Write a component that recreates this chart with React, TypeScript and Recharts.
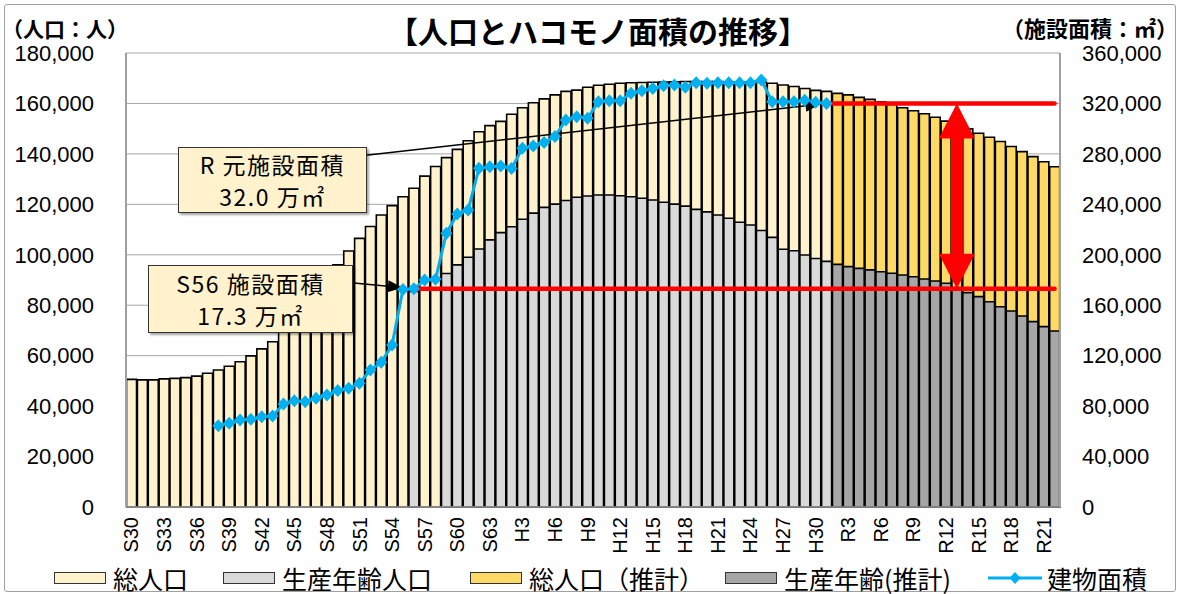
import React from 'react';
import {
  ComposedChart, Bar, Line, XAxis, YAxis, CartesianGrid, ReferenceLine,
} from 'recharts';

const JP = "'Noto Sans CJK JP', 'Noto Sans', sans-serif";
const NUM = "'Liberation Sans', Arial, sans-serif";

// year labels: S30 (1955) ... H30 (2018), R1 (2019) ... R22 (2040)
const eraSpans: [string, number, number][] = [['S', 30, 34], ['H', 1, 30], ['R', 1, 22]];
const yearLabels: string[] = eraSpans.flatMap(([era, first, count]) =>
  Array.from({ length: count }, (_, k) => `${era}${first + k}`));

const PROJ_FROM = 65; // R2 onwards = projection
const WORK_FROM = 26; // S56
const AREA_FROM = 8;  // S38

// 総人口 S30..R1
const totalPop = [
  50600, 50400, 50400, 50800, 51000, 51300, 51900, 53000, 54300, 55800,
  57600, 59900, 62700, 65500, 69500, 74000, 79000, 84500, 90000, 96000,
  101500, 106500, 111200, 115800, 119500, 123000, 126400, 131200, 135000, 138500,
  141800, 145200, 148800, 151200, 152900, 155700, 158300, 160300, 161800, 163400,
  164800, 165300, 166400, 167200, 167600, 168000, 168200, 168300, 168400, 168500,
  168600, 168700, 168700, 168700, 168700, 168600, 168600, 168500, 168400, 168000,
  167300, 166700, 165900, 165200, 164800,
];
// 総人口（推計） R2..R22
const totalPopProj = [
  164000, 163400, 162400, 161600, 160700, 159600, 158300, 157100, 155900, 154500,
  153000, 151700, 149900, 148200, 146600, 144900, 142900, 140900, 138900, 136900,
  134900,
];
// 生産年齢人口 S56..R1
const workPop = [
  85500, null, null, 92600, 96000, 99000, 102300, 105900, 108800, 111100,
  114100, 116500, 118800, 120100, 121500, 122800, 123300, 123700, 123700, 123400,
  123000, 122400, 121700, 120800, 120100, 119300, 118000, 117000, 115800, 114500,
  112900, 111800, 109600, 106900, 102200, 101600, 99900, 98500, 97400,
];
// 生産年齢（推計） R2..R22
const workPopProj = [
  96200, 95300, 94600, 94000, 93300, 92700, 92000, 91300, 90400, 89600,
  88700, 87000, 85000, 83400, 81400, 79400, 77700, 75700, 73500, 71500,
  69800,
];
// 建物面積 (m2) S38..R1
const buildingArea = [
  64500, 66400, 69000, 69500, 71500, 72200, 81700, 84300, 83500, 86200,
  88800, 92300, 94100, 98100, 108600, 114700, 128500, 172500, 173000, 180000,
  180600, 217000, 232400, 235500, 268600, 269900, 270400, 268500, 284400, 286300,
  289000, 293700, 306900, 309500, 308200, 321400, 322200, 322200, 328000, 330100,
  331800, 334000, 334600, 332800, 336500, 336000, 336500, 336500, 336500, 336500,
  338600, 321400, 321400, 321400, 322500, 321000, 320000,
];

const popTicks = [0, 20000, 40000, 60000, 80000, 100000, 120000, 140000, 160000, 180000];
const areaTicks = [0, 40000, 80000, 120000, 160000, 200000, 240000, 280000, 320000, 360000];

const AREA_S56 = 173000;
const AREA_R1 = 320000;

const rows = yearLabels.map((label, i) => ({
  label,
  total: i < PROJ_FROM ? totalPop[i] : null,
  totalProj: i >= PROJ_FROM ? totalPopProj[i - PROJ_FROM] : null,
  work: i >= WORK_FROM && i < PROJ_FROM ? workPop[i - WORK_FROM] ?? null : null,
  workProj: i >= PROJ_FROM ? workPopProj[i - PROJ_FROM] : null,
  area: i >= AREA_FROM && i < AREA_FROM + buildingArea.length ? buildingArea[i - AREA_FROM] : null,
}));

const legendItems = [
  { label: '総人口', fill: '#FFF2CC', left: 54 },
  { label: '生産年齢人口', fill: '#D9D9D9', left: 223 },
  { label: '総人口（推計）', fill: '#FFD966', left: 470 },
  { label: '生産年齢(推計)', fill: '#A6A6A6', left: 725 },
  { label: '建物面積', fill: null, left: 988 },
];

const fmt = (v: number) => v.toLocaleString('en-US');

const XTick = (p: any) => (
  <text
    transform={`translate(${p.x},${p.y + 2}) rotate(-90)`}
    textAnchor="end"
    dominantBaseline="central"
    fontSize={20}
    fontFamily={NUM}
    fill="#000"
  >
    {p.payload.value}
  </text>
);

const Diamond = (p: any) => {
  const { cx, cy, index } = p;
  if (cx == null || cy == null || Number.isNaN(cy)) return <g key={index} />;
  return (
    <path
      key={index}
      d={`M${cx},${cy - 6.5} L${cx + 6},${cy} L${cx},${cy + 6.5} L${cx - 6},${cy} Z`}
      fill="#00B0F0"
    />
  );
};

const DoubleArrow = (p: any) => {
  const x = p.x1;
  const top = Math.min(p.y1, p.y2);
  const bot = Math.max(p.y1, p.y2);
  const hw = 18, hh = 35, sw = 6;
  const d = `M${x},${top} L${x + hw},${top + hh} L${x + sw},${top + hh} L${x + sw},${bot - hh}`
    + ` L${x + hw},${bot - hh} L${x},${bot} L${x - hw},${bot - hh} L${x - sw},${bot - hh}`
    + ` L${x - sw},${top + hh} L${x - hw},${top + hh} Z`;
  return <path d={d} fill="#FF0000" />;
};

const pointer = (gap: number) => (p: any) => {
  const { x1, y1, x2, y2 } = p;
  const len = Math.hypot(x2 - x1, y2 - y1);
  const ux = (x2 - x1) / len, uy = (y2 - y1) / len;
  const tx = x2 - ux * gap, ty = y2 - uy * gap;
  const hl = 15, hw = 6;
  const bx = tx - ux * hl, by = ty - uy * hl;
  return (
    <g>
      <line x1={x1} y1={y1} x2={bx} y2={by} stroke="#000" strokeWidth={1.5} />
      <polygon
        points={`${tx},${ty} ${bx - uy * hw},${by + ux * hw} ${bx + uy * hw},${by - ux * hw}`}
        fill="#000"
      />
    </g>
  );
};

function NoteBox({ left, top, width, height, lines }: any) {
  return (
    <div style={{
      position: 'absolute', left, top, width, height, boxSizing: 'border-box',
      background: '#FFF2CC', border: '1px solid #333', boxShadow: '2px 2px 2px rgba(0,0,0,0.35)',
      display: 'flex', flexDirection: 'column', justifyContent: 'center', alignItems: 'center',
      fontFamily: JP, fontSize: 23, letterSpacing: 1.5, color: '#000',
    }}>
      {lines.map((t: string) => (
        <div key={t} style={{ lineHeight: '32px', whiteSpace: 'nowrap' }}>{t}</div>
      ))}
    </div>
  );
}

export default function App() {
  return (
    <div style={{ position: 'absolute', left: 0, top: 0, width: 1180, height: 594, background: '#fff' }}>
      <div style={{
        position: 'absolute', left: 4, top: 4, width: 1172, height: 588, boxSizing: 'border-box',
        border: '1.5px solid #a0a0a0', borderRadius: 3,
      }} />
      <div style={{ position: 'absolute', left: 0, top: 0 }}>
        <ComposedChart
          width={1180}
          height={594}
          data={rows}
          margin={{ top: 53, right: 0, bottom: 0, left: 0 }}
          barCategoryGap="5%"
          barGap={0}
        >
          <CartesianGrid xAxisId="back" yAxisId="l" vertical={false} stroke="#a6a6a6" />
          <XAxis
            xAxisId="back"
            dataKey="label"
            interval={2}
            height={87}
            tick={XTick}
            tickLine={false}
            axisLine={{ stroke: '#a0a0a0', strokeWidth: 1.5 }}
          />
          <XAxis xAxisId="front" dataKey="label" hide />
          <YAxis
            yAxisId="l"
            domain={[0, 180000]}
            ticks={popTicks}
            width={126}
            tickLine={false}
            tickMargin={26}
            tickFormatter={fmt}
            axisLine={{ stroke: '#a0a0a0', strokeWidth: 2 }}
            tick={{ fontSize: 22, fill: '#000', fontFamily: NUM }}
          />
          <YAxis
            yAxisId="r"
            orientation="right"
            domain={[0, 360000]}
            ticks={areaTicks}
            width={120}
            tickLine={false}
            tickMargin={16}
            tickFormatter={fmt}
            axisLine={{ stroke: '#a0a0a0', strokeWidth: 2 }}
            tick={{ fontSize: 22, fill: '#000', fontFamily: NUM }}
          />
          <Bar xAxisId="back" yAxisId="l" stackId="t" dataKey="total" fill="#FFF2CC"
            stroke="#000" strokeWidth={1.6} isAnimationActive={false} />
          <Bar xAxisId="back" yAxisId="l" stackId="t" dataKey="totalProj" fill="#FFD966"
            stroke="#000" strokeWidth={1.6} isAnimationActive={false} />
          <Bar xAxisId="front" yAxisId="l" stackId="w" dataKey="work" fill="#D9D9D9"
            stroke="#000" strokeWidth={1.6} isAnimationActive={false} />
          <Bar xAxisId="front" yAxisId="l" stackId="w" dataKey="workProj" fill="#A6A6A6"
            stroke="#000" strokeWidth={1.6} isAnimationActive={false} />
          <Line xAxisId="back" yAxisId="r" dataKey="area" stroke="#00B0F0" strokeWidth={3}
            dot={Diamond} activeDot={false} isAnimationActive={false} />
          <ReferenceLine xAxisId="back" yAxisId="r" stroke="#FF0000" strokeWidth={4.5} strokeLinecap="round"
            segment={[{ x: yearLabels[WORK_FROM], y: AREA_S56 }, { x: yearLabels[85], y: AREA_S56 }]} />
          <ReferenceLine xAxisId="back" yAxisId="r" stroke="#FF0000" strokeWidth={4.5} strokeLinecap="round"
            segment={[{ x: yearLabels[64], y: AREA_R1 }, { x: yearLabels[85], y: AREA_R1 }]} />
          <ReferenceLine xAxisId="back" yAxisId="r" shape={DoubleArrow}
            segment={[{ x: yearLabels[76], y: AREA_R1 }, { x: yearLabels[76], y: AREA_S56 }]} />
          <ReferenceLine xAxisId="back" yAxisId="r" shape={pointer(6)}
            segment={[{ x: yearLabels[21], y: 278400 }, { x: yearLabels[64], y: AREA_R1 }]} />
          <ReferenceLine xAxisId="back" yAxisId="r" shape={pointer(11)}
            segment={[{ x: yearLabels[20], y: 178000 }, { x: yearLabels[WORK_FROM], y: AREA_S56 }]} />
        </ComposedChart>
      </div>

      <NoteBox left={178} top={147} width={189} height={66} lines={['R 元施設面積', '32.0 万㎡']} />
      <NoteBox left={148} top={265} width={205} height={68} lines={['S56 施設面積', '17.3 万㎡']} />

      <div style={{
        position: 'absolute', left: 598, top: 12, transform: 'translateX(-50%)', whiteSpace: 'nowrap',
        fontFamily: JP, fontSize: 30, fontWeight: 700, lineHeight: '36px', color: '#000',
      }}>【人口とハコモノ面積の推移】</div>
      <div style={{
        position: 'absolute', left: 2, top: 15, fontFamily: JP, fontSize: 21, fontWeight: 700,
        lineHeight: '26px', color: '#000', whiteSpace: 'nowrap',
      }}>（人口：人）</div>
      <div style={{
        position: 'absolute', right: 2, top: 14, fontFamily: JP, fontSize: 22, fontWeight: 700,
        lineHeight: '26px', color: '#000', whiteSpace: 'nowrap',
      }}>（施設面積：㎡）</div>

      {legendItems.map((it) => (
        <div key={it.label} style={{
          position: 'absolute', left: it.left, top: 563, height: 30, display: 'flex', alignItems: 'center',
          fontFamily: JP, fontSize: 25, lineHeight: '30px', color: '#000', whiteSpace: 'nowrap',
        }}>
          {it.fill ? (
            <span style={{
              display: 'inline-block', width: 52, height: 12, boxSizing: 'border-box',
              background: it.fill, border: '1.5px solid #333', marginRight: 7,
            }} />
          ) : (
            <svg width={54} height={14} style={{ marginRight: 5 }}>
              <line x1={0} y1={7} x2={54} y2={7} stroke="#00B0F0" strokeWidth={3} />
              <path d="M27,1 L32.5,7 L27,13 L21.5,7 Z" fill="#00B0F0" />
            </svg>
          )}
          <span>{it.label}</span>
        </div>
      ))}
    </div>
  );
}
